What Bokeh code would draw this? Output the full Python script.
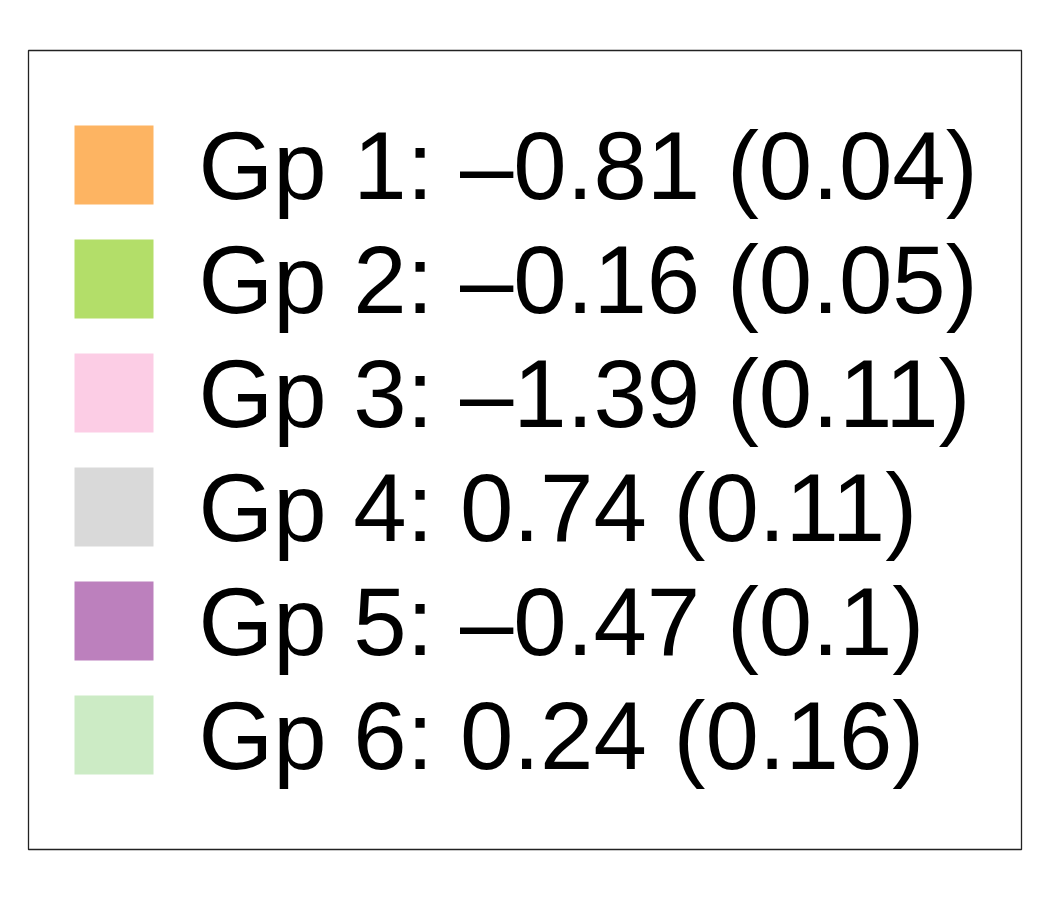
from bokeh.plotting import figure
from bokeh.models import Range1d, ColumnDataSource
from bokeh.core.properties import value
from bokeh.embed import file_html
from bokeh.resources import INLINE

# ---- data ----
groups = ["Gp 1", "Gp 2", "Gp 3", "Gp 4", "Gp 5", "Gp 6"]
estimates = [-0.81, -0.16, -1.39, 0.74, -0.47, 0.24]
std_errors = [0.04, 0.05, 0.11, 0.11, 0.10, 0.16]
colors = ["#fdb462", "#b3de69", "#fccde5", "#d9d9d9", "#bc80bd", "#ccebc5"]


def fmt(v):
    return f"{v:g}".replace("-", "\u2013")


labels = [f"{g}: {fmt(e)} ({fmt(s)})" for g, e, s in zip(groups, estimates, std_errors)]

# ---- layout (pixel units inside the framed box) ----
W, H = 1050, 900
left, right, top, bottom = 28, 29, 50, 51
fw, fh = W - left - right, H - top - bottom
step = 114
first_center = 114.5
sw = 79
sw_x = 85.5
text_x = 170

idx = list(range(len(groups)))
src = ColumnDataSource(dict(
    x=[sw_x] * len(groups),
    y=[first_center + i * step for i in idx],
    ty=[first_center + i * step for i in idx],
    tx=[text_x] * len(groups),
    color=colors,
    label=labels,
))

p = figure(width=W, height=H, output_backend="svg", toolbar_location=None,
           x_range=Range1d(0, fw), y_range=Range1d(fh, 0),
           min_border_left=left, min_border_right=right,
           min_border_top=top, min_border_bottom=bottom)
p.axis.visible = False
p.grid.visible = False
p.outline_line_color = "#222222"
p.outline_line_width = 1.3
p.background_fill_color = "white"
p.border_fill_color = "white"

p.rect(x="x", y="y", width=sw, height=sw, fill_color="color", line_color=None, source=src)
p.text(x="tx", y="ty", text="label", source=src, text_font=value("Liberation Sans"),
       text_font_size="96px", text_color="black", text_baseline="alphabetic",
       text_align="left")

open("out.html", "w").write(file_html(p, INLINE))
